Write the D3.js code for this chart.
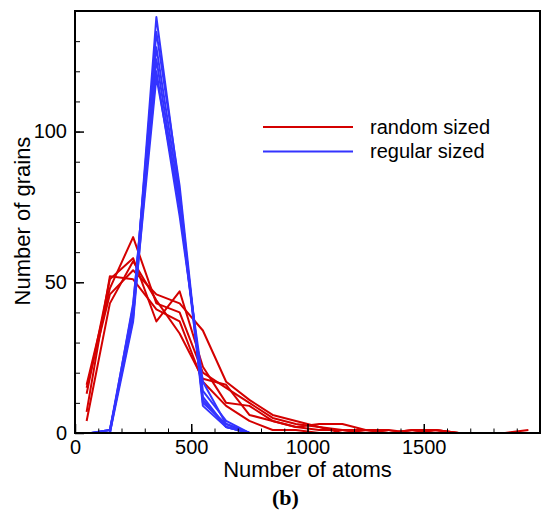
<!DOCTYPE html>
<html>
<head>
<meta charset="utf-8">
<script src="https://cdn.jsdelivr.net/npm/d3@7"></script>
<style>
  body { margin: 0; background: #fff; }
  svg { display: block; }
  text { font-family: "Liberation Sans", Arial, sans-serif; fill: #000; }
</style>
</head>
<body>
<svg width="543" height="517"></svg>
<script>
// bin centres (number of atoms)
const randomBins = [50, 150, 250, 350, 450, 550, 650, 750, 850, 950, 1050, 1150, 1250, 1350, 1450, 1550, 1650, 1750, 1850, 1950];
const regularBins = [70, 150, 250, 350, 450, 550, 650, 750];

// random sized runs (number of grains per bin)
const randomRuns = [
  [16, 48, 65, 43, 40, 20, 15, 10, 5, 3, 2, 1, 0, 0, 1, 1, 0, 0, 0, 0],
  [13, 51, 58, 37, 47, 22, 10, 9, 4, 2, 3, 3, 1, 0, 0, 0, 0, 0, 0, 1],
  [4, 43, 57, 44, 33, 18, 16, 6, 4, 2, 1, 1, 1, 1, 0, 1, 0, 0, 0, 0],
  [15, 46, 54, 46, 43, 34, 17, 11, 6, 4, 2, 0, 0, 0, 1, 0, 0, 0, 0, 0],
  [7, 52, 51, 41, 37, 17, 9, 4, 1, 1, 0, 0, 1, 0, 0, 1, 0, 0, 0, 0]
];

// regular sized runs
const regularRuns = [
  [0, 1, 38, 138, 80, 9, 2, 0],
  [0, 0, 40, 133, 82, 10, 3, 0],
  [0, 1, 42, 128, 78, 12, 2, 0],
  [0, 0, 37, 124, 75, 14, 4, 0],
  [0, 0, 43, 120, 72, 17, 3, 0],
  [0, 1, 39, 118, 76, 11, 2, 0]
];

const xTicks = [0, 500, 1000, 1500];
const yTicks = [0, 50, 100];

const red = "#d40000", blue = "#3333ff";

const svg = d3.select("svg"),
    plotLeft = 75, plotRight = 540, plotTop = 11, plotBottom = 433;

const x = d3.scaleLinear().domain([0, 2000]).range([plotLeft, plotRight]);
const y = d3.scaleLinear().domain([0, 140]).range([plotBottom, plotTop]);

svg.append("clipPath").attr("id", "plot")
  .append("rect")
  .attr("x", plotLeft).attr("y", plotTop)
  .attr("width", plotRight - plotLeft).attr("height", plotBottom - plotTop);

const line = d3.line().x(d => x(d[0])).y(d => y(d[1]));

const lines = svg.append("g").attr("clip-path", "url(#plot)")
  .attr("fill", "none").attr("stroke-width", 2).attr("stroke-linejoin", "round");

randomRuns.forEach(run => {
  lines.append("path")
    .attr("stroke", red)
    .attr("d", line(run.map((v, i) => [randomBins[i], v])));
});

regularRuns.forEach(run => {
  lines.append("path")
    .attr("stroke", blue)
    .attr("d", line(run.map((v, i) => [regularBins[i], v])));
});

// minor ticks
svg.append("g")
  .attr("transform", `translate(0,${plotBottom})`)
  .call(d3.axisBottom(x).tickValues(d3.range(100, 2000, 100)).tickSize(-4.5).tickFormat(""))
  .call(g => g.select(".domain").remove());

svg.append("g")
  .attr("transform", `translate(${plotLeft},0)`)
  .call(d3.axisLeft(y).tickValues(d3.range(10, 140, 10)).tickSize(-5).tickFormat(""))
  .call(g => g.select(".domain").remove());

// major ticks + labels
svg.append("g")
  .attr("transform", `translate(0,${plotBottom})`)
  .call(d3.axisBottom(x).tickValues(xTicks).tickSize(-9).tickPadding(7).tickFormat(d3.format("d")))
  .call(g => g.select(".domain").remove())
  .call(g => g.selectAll("line").attr("stroke-width", 1.5))
  .selectAll("text")
  .style("font-size", "20px")
  .style("font-family", "'Liberation Sans', Arial, sans-serif");

svg.append("g")
  .attr("transform", `translate(${plotLeft},0)`)
  .call(d3.axisLeft(y).tickValues(yTicks).tickSize(-9).tickPadding(8).tickFormat(d3.format("d")))
  .call(g => g.select(".domain").remove())
  .call(g => g.selectAll("line").attr("stroke-width", 1.5))
  .selectAll("text")
  .style("font-size", "20px")
  .style("font-family", "'Liberation Sans', Arial, sans-serif");

// frame
svg.append("rect")
  .attr("x", plotLeft).attr("y", plotTop)
  .attr("width", plotRight - plotLeft).attr("height", plotBottom - plotTop)
  .attr("fill", "none").attr("stroke", "#000").attr("stroke-width", 2);

// legend
const legend = [
  { label: "random sized", color: red },
  { label: "regular sized", color: blue }
];
legend.forEach((d, i) => {
  const ly = 127 + i * 24.5;
  svg.append("line")
    .attr("x1", 263).attr("x2", 353)
    .attr("y1", ly).attr("y2", ly)
    .attr("stroke", d.color).attr("stroke-width", 2);
  svg.append("text")
    .attr("x", 370).attr("y", ly + 6.5)
    .style("font-size", "20px")
    .text(d.label);
});

// axis titles
svg.append("text")
  .attr("x", (plotLeft + plotRight) / 2)
  .attr("y", 477)
  .style("text-anchor", "middle")
  .style("font-size", "22px")
  .text("Number of atoms");

svg.append("text")
  .attr("transform", "rotate(-90)")
  .attr("x", -221)
  .attr("y", 30)
  .style("text-anchor", "middle")
  .style("font-size", "22px")
  .text("Number of grains");

svg.append("text")
  .attr("x", 285.5)
  .attr("y", 505)
  .style("text-anchor", "middle")
  .style("font-size", "22px")
  .style("font-weight", "bold")
  .style("font-family", "'Liberation Serif', 'Times New Roman', serif")
  .text("(b)");
</script>
</body>
</html>
